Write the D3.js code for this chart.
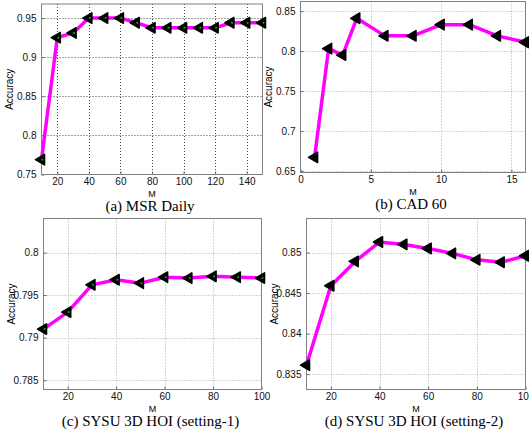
<!DOCTYPE html>
<html>
<head>
<meta charset="utf-8">
<script src="https://cdn.jsdelivr.net/npm/d3@7"></script>
<style>
  body { margin: 0; background: #fff; }
  svg { display: block; }
</style>
</head>
<body>
<svg id="chart" width="529" height="431"></svg>
<script>
// values
const mA = [10, 20, 30, 40, 50, 60, 70, 80, 90, 100, 110, 120, 130, 140, 150];
const accA = [0.769, 0.925, 0.931, 0.950, 0.950, 0.950, 0.944, 0.9375, 0.9375, 0.9375, 0.9375, 0.9375, 0.944, 0.944, 0.944];

const mB = [1, 2, 3, 4, 6, 8, 10, 12, 14, 16];
const accB = [0.667, 0.803, 0.795, 0.841, 0.819, 0.819, 0.833, 0.833, 0.819, 0.811];

const mC = [10, 20, 30, 40, 50, 60, 70, 80, 90, 100];
const accC = [0.7910, 0.7930, 0.7962, 0.7968, 0.7964, 0.7971, 0.7970, 0.7972, 0.7971, 0.7970];

const mD = [10, 20, 30, 40, 50, 60, 70, 80, 90, 100];
const accD = [0.8361, 0.8459, 0.8489, 0.8513, 0.8510, 0.8505, 0.8499, 0.8491, 0.8488, 0.8496];

const xTicksA = [20, 40, 60, 80, 100, 120, 140];
const yTicksA = [0.75, 0.8, 0.85, 0.9, 0.95];
const xTicksB = [0, 5, 10, 15];
const yTicksB = [0.65, 0.7, 0.75, 0.8, 0.85];
const xTicksC = [20, 40, 60, 80, 100];
const yTicksC = [0.785, 0.79, 0.795, 0.8];
const xTicksD = [20, 40, 60, 80, 100];
const yTicksD = [0.835, 0.84, 0.845, 0.85];

const captions = ["(a) MSR Daily", "(b) CAD 60", "(c) SYSU 3D HOI (setting-1)", "(d) SYSU 3D HOI (setting-2)"];

const svg = d3.select("#chart");

const panels = [
  {x: mA, y: accA, xt: xTicksA, yt: yTicksA, xd: [10, 150], yd: [0.75, 0.968],
   box: [41.5, 262.5, 4, 174.5], grid: "#444", dot: true, cap: captions[0]},
  {x: mB, y: accB, xt: xTicksB, yt: yTicksB, xd: [0, 16], yd: [0.648, 0.862],
   box: [300.5, 525.5, 1.5, 172.5], grid: "#aaa", dot: false, cap: captions[1]},
  {x: mC, y: accC, xt: xTicksC, yt: yTicksC, xd: [10, 100], yd: [0.7839, 0.804],
   box: [43.5, 261.5, 218.5, 389.5], grid: "#aaa", dot: true, cap: captions[2]},
  {x: mD, y: accD, xt: xTicksD, yt: yTicksD, xd: [10, 100], yd: [0.8331, 0.8542],
   box: [306.5, 525.5, 218.5, 389.5], grid: "#aaa", dot: false, cap: captions[3]}
];

panels.forEach(p => {
  const [x0, x1, y0, y1] = p.box;
  const x = d3.scaleLinear().domain(p.xd).range([x0, x1]);
  const y = d3.scaleLinear().domain(p.yd).range([y1, y0]);
  const g = svg.append("g");

  // dotted grid
  g.append("g").selectAll("line.gx")
    .data(p.xt.filter(v => v > p.xd[0] && v < p.xd[1]))
    .enter().append("line")
      .attr("x1", d => Math.round(x(d)) + 0.5).attr("x2", d => Math.round(x(d)) + 0.5)
      .attr("y1", y0).attr("y2", y1)
      .attr("stroke", p.grid).attr("stroke-width", 1).attr("stroke-dasharray", "1,2");
  g.append("g").selectAll("line.gy")
    .data(p.yt.filter(v => v > p.yd[0] && v < p.yd[1]))
    .enter().append("line")
      .attr("y1", d => Math.round(y(d)) + 0.5).attr("y2", d => Math.round(y(d)) + 0.5)
      .attr("x1", x0).attr("x2", x1)
      .attr("stroke", p.grid).attr("stroke-width", 1).attr("stroke-dasharray", "1,2");

  // axes with inside ticks
  const ax = g.append("g").attr("transform", `translate(0,${y1})`)
    .call(d3.axisBottom(x).tickValues(p.xt).tickSize(-3).tickPadding(3).tickFormat(d => String(d)));
  const ay = g.append("g").attr("transform", `translate(${x0},0)`)
    .call(d3.axisLeft(y).tickValues(p.yt).tickSize(-3).tickPadding(5).tickFormat(d => String(d)));
  [ax, ay].forEach(a => {
    a.select(".domain").remove();
    a.selectAll(".tick line").attr("stroke", "#666");
    a.selectAll("text").attr("font-family", "Liberation Sans, Arial, sans-serif")
      .attr("font-size", 10).attr("fill", "#111");
  });

  // box
  g.append("rect").attr("x", x0).attr("y", y0)
    .attr("width", x1 - x0).attr("height", y1 - y0)
    .attr("fill", "none").attr("stroke", "#808080").attr("stroke-width", 1);

  // series line
  const pts = p.x.map((v, i) => [v, p.y[i]]);
  g.append("path").datum(pts)
    .attr("d", d3.line().x(d => x(d[0])).y(d => y(d[1])))
    .attr("fill", "none").attr("stroke", "#ff00ff").attr("stroke-width", 3.5)
    .attr("stroke-linejoin", "round");

  // left-pointing triangle markers
  const tri = d3.symbol().type(d3.symbolTriangle).size(48);
  g.append("g").selectAll("path.m").data(pts).enter().append("path")
    .attr("d", tri)
    .attr("transform", d => `translate(${x(d[0])},${y(d[1])}) rotate(-90)`)
    .attr("fill", "#000").attr("stroke", "#000").attr("stroke-width", 1.5)
    .attr("stroke-linejoin", "round");
  if (p.dot) {
    g.append("g").selectAll("circle").data(pts).enter().append("circle")
      .attr("cx", d => x(d[0]) + 1).attr("cy", d => y(d[1]))
      .attr("r", 1).attr("fill", "#00c000");
  }

  // axis labels
  g.append("text")
    .attr("x", (x0 + x1) / 2).attr("y", y1 + 22.5)
    .attr("text-anchor", "middle")
    .attr("font-family", "Liberation Sans, Arial, sans-serif").attr("font-size", 9)
    .text("M");
  g.append("text")
    .attr("transform", `translate(${x0 - 29},${(y0 + y1) / 2}) rotate(-90)`)
    .attr("text-anchor", "middle")
    .attr("font-family", "Liberation Sans, Arial, sans-serif").attr("font-size", 10)
    .text("Accuracy");

  // caption
  g.append("text")
    .attr("x", (x0 + x1) / 2 - 2).attr("y", y1 + 36)
    .attr("text-anchor", "middle")
    .attr("font-family", "Liberation Serif, Times New Roman, serif").attr("font-size", 15)
    .text(p.cap);
});
</script>
</body>
</html>
